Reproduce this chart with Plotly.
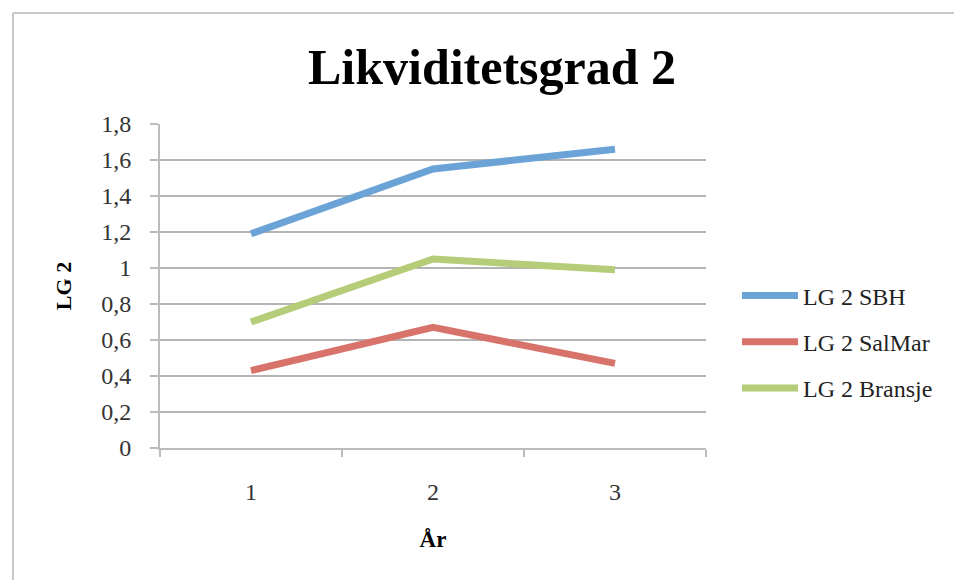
import plotly.graph_objects as go

years = ["1", "2", "3"]
lg2_sbh = [1.19, 1.55, 1.66]
lg2_salmar = [0.43, 0.67, 0.47]
lg2_bransje = [0.70, 1.05, 0.99]
series_names = ["LG 2 SBH", "LG 2 SalMar", "LG 2 Bransje"]
y_ticks = [0, 0.2, 0.4, 0.6, 0.8, 1.0, 1.2, 1.4, 1.6, 1.8]

colors = ["#6CA3D6", "#D8736B", "#B5CC79"]
font_family = "Liberation Serif, DejaVu Serif, serif"

# plot area in figure pixels (page adds an 8px body margin)
L, R, T, B = 152, 698, 116, 440
W, H = 962, 580
pw, ph = R - L, B - T

fig = go.Figure()
for name, vals, col in zip(series_names, [lg2_sbh, lg2_salmar, lg2_bransje], colors):
    fig.add_trace(go.Scatter(
        x=years, y=vals, name=name, mode="lines",
        line=dict(color=col, width=7),
        legendgroup=name,
    ))

fig.update_layout(
    width=W, height=H,
    paper_bgcolor="white", plot_bgcolor="white",
    margin=dict(l=L, r=W - R, t=T, b=H - B),
    separators=", ",
    font=dict(family=font_family, size=24, color="#333333"),
    title=dict(
        text="<b>Likviditetsgrad 2</b>",
        font=dict(family=font_family, size=50, color="#000000"),
        x=484 / W, xanchor="center", xref="container",
        y=1 - 58 / H, yanchor="middle", yref="container",
    ),
    showlegend=True,
    legend=dict(
        xref="container", yref="container",
        x=729 / W, xanchor="left",
        y=1 - 334 / H, yanchor="middle",
        font=dict(family=font_family, size=24, color="#222222"),
        tracegroupgap=12,
        itemwidth=56,
        bgcolor="rgba(0,0,0,0)",
    ),
    xaxis=dict(
        type="category",
        range=[-0.5, 2.5],
        tickson="boundaries",
        ticks="outside", ticklen=7, tickwidth=2, tickcolor="#BBBBBB",
        ticklabelstandoff=21,
        showline=True, linecolor="#BBBBBB", linewidth=2,
        showgrid=False,
        tickfont=dict(family=font_family, size=24, color="#333333"),
        title=dict(text="<b>År</b>", font=dict(family=font_family, size=23, color="#000000"), standoff=27),
    ),
    yaxis=dict(
        range=[0, 1.8],
        tickvals=y_ticks,
        ticks="outside", ticklen=8, tickwidth=2, tickcolor="#BBBBBB",
        ticklabelstandoff=14,
        showline=True, linecolor="#BBBBBB", linewidth=2,
        showgrid=True, gridcolor="#B4B4B4", gridwidth=2,
        zeroline=False,
        tickfont=dict(family=font_family, size=24, color="#333333"),
        title=dict(text="<b>LG 2</b>", font=dict(family=font_family, size=22, color="#000000"), standoff=24),
    ),
)

# chart frame (only top and left edges visible in the reference)
fig.add_shape(type="line", xref="paper", yref="paper",
              x0=(5 - L) / pw, x1=(W - L) / pw, y0=(B - 5) / ph, y1=(B - 5) / ph,
              line=dict(color="#C8C8C8", width=2))
fig.add_shape(type="line", xref="paper", yref="paper",
              x0=(5 - L) / pw, x1=(5 - L) / pw, y0=(B - H) / ph, y1=(B - 5) / ph,
              line=dict(color="#C8C8C8", width=2))

fig.write_html("out.html")
